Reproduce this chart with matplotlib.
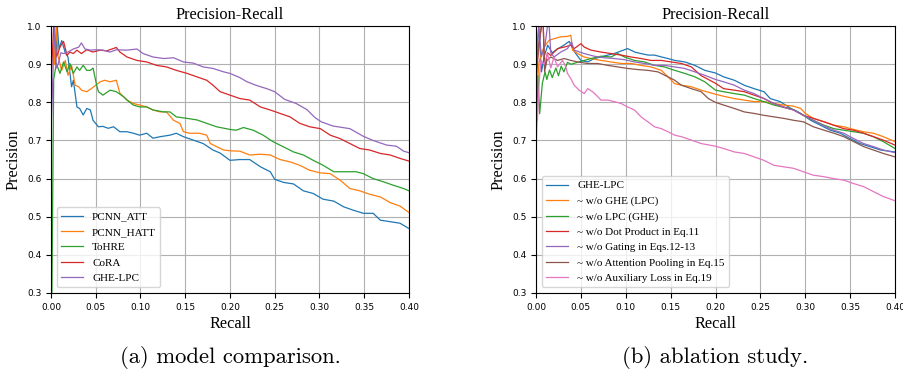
import matplotlib
matplotlib.use('Agg')
import matplotlib.pyplot as plt

# ---------- (a) model comparison ----------
att_r = [0.0, 0.003, 0.005, 0.007, 0.009, 0.012, 0.016, 0.019, 0.023, 0.025, 0.029, 0.032, 0.036, 0.040, 0.044, 0.047,
         0.053, 0.058, 0.064, 0.070, 0.077, 0.085, 0.092, 0.099, 0.107, 0.114, 0.122, 0.133, 0.140, 0.148, 0.159,
         0.170, 0.181, 0.189, 0.200, 0.211, 0.222, 0.234, 0.245, 0.250, 0.260, 0.271, 0.282, 0.293, 0.304, 0.316,
         0.327, 0.338, 0.349, 0.360, 0.368, 0.379, 0.390, 0.400]
att_p = [1.0, 1.0, 0.90, 1.0, 0.94, 0.962, 0.93, 0.919, 0.841, 0.858, 0.788, 0.784, 0.767, 0.784, 0.780, 0.753,
         0.736, 0.737, 0.732, 0.736, 0.723, 0.723, 0.719, 0.714, 0.719, 0.706, 0.710, 0.714, 0.719, 0.710, 0.701,
         0.692, 0.675, 0.667, 0.648, 0.650, 0.650, 0.631, 0.618, 0.598, 0.590, 0.586, 0.568, 0.561, 0.546, 0.541,
         0.526, 0.517, 0.509, 0.509, 0.491, 0.487, 0.483, 0.469]

hatt_r = [0.0, 0.003, 0.004, 0.006, 0.008, 0.012, 0.016, 0.019, 0.023, 0.027, 0.031, 0.034, 0.040, 0.045, 0.050,
          0.055, 0.060, 0.066, 0.073, 0.077, 0.085, 0.092, 0.099, 0.107, 0.114, 0.122, 0.129, 0.137, 0.144, 0.148,
          0.155, 0.166, 0.174, 0.178, 0.185, 0.193, 0.200, 0.211, 0.222, 0.234, 0.245, 0.256, 0.267, 0.278, 0.289,
          0.301, 0.312, 0.323, 0.334, 0.345, 0.356, 0.368, 0.379, 0.390, 0.400]
hatt_p = [1.0, 1.0, 0.90, 1.0, 0.919, 0.884, 0.910, 0.871, 0.897, 0.845, 0.841, 0.832, 0.828, 0.836, 0.845,
          0.854, 0.858, 0.854, 0.858, 0.824, 0.806, 0.797, 0.793, 0.788, 0.780, 0.775, 0.775, 0.753, 0.745, 0.723,
          0.719, 0.719, 0.714, 0.692, 0.684, 0.675, 0.673, 0.672, 0.662, 0.664, 0.662, 0.650, 0.644, 0.635, 0.622,
          0.615, 0.613, 0.596, 0.574, 0.568, 0.559, 0.552, 0.537, 0.528, 0.511]

tohre_r = [0.0, 0.003, 0.006, 0.010, 0.014, 0.018, 0.021, 0.025, 0.029, 0.032, 0.036, 0.040, 0.044, 0.047, 0.051,
           0.053, 0.058, 0.066, 0.073, 0.081, 0.085, 0.092, 0.099, 0.107, 0.114, 0.126, 0.133, 0.140, 0.152, 0.163,
           0.174, 0.185, 0.200, 0.207, 0.215, 0.226, 0.237, 0.248, 0.260, 0.271, 0.282, 0.293, 0.304, 0.316, 0.327,
           0.341, 0.349, 0.360, 0.371, 0.382, 0.394, 0.400]
tohre_p = [0.0, 0.86, 0.902, 0.876, 0.906, 0.880, 0.902, 0.876, 0.893, 0.884, 0.897, 0.884, 0.884, 0.890, 0.845,
           0.828, 0.819, 0.832, 0.828, 0.815, 0.806, 0.793, 0.788, 0.788, 0.780, 0.775, 0.775, 0.762, 0.758, 0.754,
           0.745, 0.736, 0.729, 0.727, 0.734, 0.727, 0.714, 0.697, 0.683, 0.670, 0.662, 0.648, 0.635, 0.618, 0.618,
           0.618, 0.613, 0.600, 0.592, 0.583, 0.574, 0.568]

cora_r = [0.0, 0.003, 0.006, 0.008, 0.010, 0.014, 0.018, 0.021, 0.025, 0.029, 0.034, 0.040, 0.047, 0.055, 0.062,
          0.073, 0.077, 0.085, 0.096, 0.107, 0.118, 0.129, 0.140, 0.152, 0.163, 0.174, 0.181, 0.189, 0.200, 0.211,
          0.222, 0.234, 0.245, 0.256, 0.267, 0.278, 0.289, 0.301, 0.312, 0.323, 0.334, 0.345, 0.356, 0.368, 0.379,
          0.390, 0.400]
cora_p = [0.85, 1.0, 0.92, 0.93, 0.945, 0.960, 0.923, 0.932, 0.928, 0.937, 0.928, 0.938, 0.932, 0.937, 0.935,
          0.944, 0.932, 0.919, 0.910, 0.906, 0.897, 0.893, 0.884, 0.876, 0.867, 0.858, 0.845, 0.828, 0.819, 0.810,
          0.806, 0.788, 0.780, 0.771, 0.762, 0.745, 0.736, 0.731, 0.714, 0.705, 0.692, 0.679, 0.675, 0.666, 0.662,
          0.653, 0.646]

ghe_r = [0.0, 0.002, 0.004, 0.006, 0.008, 0.011, 0.014, 0.019, 0.025, 0.031, 0.034, 0.038, 0.044, 0.050, 0.058,
         0.066, 0.073, 0.085, 0.096, 0.103, 0.114, 0.126, 0.137, 0.148, 0.159, 0.170, 0.181, 0.193, 0.200, 0.211,
         0.219, 0.230, 0.241, 0.250, 0.261, 0.274, 0.286, 0.295, 0.302, 0.315, 0.334, 0.349, 0.360, 0.375, 0.386,
         0.394, 0.400]
ghe_p = [0.72, 0.86, 1.0, 0.89, 0.90, 0.93, 0.928, 0.932, 0.940, 0.945, 0.956, 0.940, 0.937, 0.938, 0.937,
         0.932, 0.938, 0.937, 0.940, 0.928, 0.919, 0.915, 0.917, 0.906, 0.903, 0.893, 0.889, 0.880, 0.876, 0.865,
         0.854, 0.844, 0.836, 0.828, 0.808, 0.797, 0.781, 0.760, 0.749, 0.738, 0.731, 0.711, 0.700, 0.688, 0.685,
         0.672, 0.668]

# ---------- (b) ablation study ----------
full_r = [0.0, 0.003, 0.006, 0.009, 0.013, 0.018, 0.024, 0.031, 0.037, 0.042, 0.050, 0.0575, 0.065, 0.072, 0.080,
          0.087, 0.095, 0.102, 0.110, 0.117, 0.125, 0.132, 0.140, 0.147, 0.1545, 0.166, 0.177, 0.188, 0.200,
          0.209, 0.221, 0.232, 0.243, 0.254, 0.261, 0.272, 0.284, 0.295, 0.306, 0.317, 0.328, 0.339, 0.350,
          0.361, 0.372, 0.384, 0.400]
full_p = [0.90, 1.0, 0.88, 0.92, 0.95, 0.93, 0.94, 0.95, 0.96, 0.935, 0.91, 0.906, 0.915, 0.919, 0.924,
          0.928, 0.935, 0.941, 0.932, 0.928, 0.924, 0.924, 0.919, 0.915, 0.910, 0.906, 0.897, 0.884, 0.877,
          0.867, 0.858, 0.845, 0.836, 0.828, 0.810, 0.802, 0.784, 0.771, 0.753, 0.740, 0.727, 0.719, 0.705,
          0.692, 0.684, 0.675, 0.670]

noghe_r = [0.0, 0.003, 0.006, 0.009, 0.0146, 0.020, 0.0276, 0.035, 0.0388, 0.0407, 0.0463, 0.0537, 0.0612, 0.0724,
           0.0836, 0.0948, 0.106, 0.117, 0.128, 0.1396, 0.147, 0.1545, 0.162, 0.173, 0.184, 0.199, 0.209, 0.221,
           0.232, 0.243, 0.254, 0.265, 0.276, 0.287, 0.295, 0.300, 0.309, 0.321, 0.332, 0.343, 0.354, 0.365,
           0.376, 0.387, 0.400]
noghe_p = [0.78, 0.90, 0.93, 0.945, 0.963, 0.967, 0.972, 0.973, 0.976, 0.937, 0.928, 0.919, 0.915, 0.910,
           0.906, 0.902, 0.902, 0.897, 0.893, 0.884, 0.867, 0.849, 0.845, 0.841, 0.832, 0.822, 0.816, 0.810,
           0.806, 0.802, 0.802, 0.797, 0.793, 0.790, 0.784, 0.771, 0.758, 0.749, 0.740, 0.736, 0.729, 0.723,
           0.719, 0.710, 0.697]

nolpc_r = [0.0, 0.002, 0.004, 0.007, 0.010, 0.012, 0.015, 0.018, 0.022, 0.025, 0.028, 0.031, 0.035, 0.039, 0.046,
           0.0537, 0.0612, 0.0724, 0.0836, 0.091, 0.0985, 0.1097, 0.121, 0.132, 0.143, 0.1545, 0.1657, 0.177,
           0.188, 0.200, 0.209, 0.221, 0.232, 0.243, 0.254, 0.265, 0.276, 0.287, 0.298, 0.309, 0.321, 0.332,
           0.343, 0.354, 0.365, 0.376, 0.387, 0.400]
nolpc_p = [0.667, 0.87, 0.77, 0.85, 0.88, 0.86, 0.885, 0.865, 0.89, 0.87, 0.895, 0.88, 0.905, 0.90, 0.905,
           0.910, 0.915, 0.921, 0.919, 0.928, 0.919, 0.910, 0.906, 0.897, 0.893, 0.884, 0.876, 0.867,
           0.854, 0.832, 0.828, 0.823, 0.819, 0.810, 0.802, 0.793, 0.787, 0.781, 0.766, 0.753, 0.740, 0.731,
           0.727, 0.723, 0.719, 0.710, 0.697, 0.679]

nodot_r = [0.0, 0.003, 0.006, 0.008, 0.0095, 0.0127, 0.0164, 0.0239, 0.0313, 0.0388, 0.0425, 0.050, 0.0537,
           0.0612, 0.0724, 0.0836, 0.0948, 0.106, 0.117, 0.128, 0.1396, 0.1507, 0.162, 0.173, 0.184, 0.200,
           0.209, 0.221, 0.232, 0.243, 0.254, 0.265, 0.276, 0.287, 0.298, 0.309, 0.321, 0.332, 0.343, 0.354,
           0.365, 0.376, 0.387, 0.400]
nodot_p = [0.85, 0.95, 1.0, 1.0, 0.89, 0.93, 0.923, 0.941, 0.945, 0.950, 0.941, 0.954, 0.945,
           0.937, 0.932, 0.928, 0.924, 0.919, 0.915, 0.910, 0.910, 0.906, 0.902, 0.893, 0.870, 0.850,
           0.836, 0.832, 0.828, 0.819, 0.810, 0.797, 0.788, 0.780, 0.766, 0.758, 0.749, 0.740, 0.731, 0.727,
           0.719, 0.710, 0.701, 0.688]

nogate_r = [0.0, 0.003, 0.006, 0.010, 0.0127, 0.0146, 0.0164, 0.020, 0.0276, 0.035, 0.0395, 0.0425, 0.0537,
            0.065, 0.0761, 0.0873, 0.0985, 0.1097, 0.121, 0.132, 0.143, 0.1545, 0.1657, 0.177, 0.188, 0.200,
            0.209, 0.221, 0.232, 0.243, 0.254, 0.265, 0.276, 0.287, 0.298, 0.309, 0.321, 0.332, 0.343, 0.354,
            0.365, 0.376, 0.387, 0.400]
nogate_p = [0.90, 1.0, 0.92, 0.95, 1.0, 1.0, 0.93, 0.919, 0.932, 0.941, 0.958, 0.937, 0.928,
            0.921, 0.917, 0.915, 0.912, 0.906, 0.902, 0.897, 0.897, 0.893, 0.889, 0.880, 0.871, 0.860,
            0.854, 0.845, 0.832, 0.823, 0.810, 0.797, 0.787, 0.780, 0.766, 0.753, 0.738, 0.727, 0.719, 0.705,
            0.692, 0.684, 0.675, 0.668]

noatt_r = [0.0, 0.003, 0.006, 0.008, 0.0095, 0.012, 0.0164, 0.0239, 0.0313, 0.0388, 0.0463, 0.0575, 0.0687,
           0.080, 0.091, 0.102, 0.1134, 0.1246, 0.1358, 0.147, 0.1545, 0.162, 0.173, 0.184, 0.192, 0.200,
           0.209, 0.221, 0.232, 0.243, 0.254, 0.265, 0.276, 0.287, 0.298, 0.309, 0.321, 0.332, 0.343, 0.354,
           0.365, 0.376, 0.387, 0.400]
noatt_p = [0.88, 0.95, 1.0, 1.0, 0.88, 0.91, 0.919, 0.910, 0.915, 0.910, 0.906, 0.902, 0.902,
           0.897, 0.893, 0.889, 0.886, 0.884, 0.880, 0.867, 0.858, 0.845, 0.836, 0.828, 0.810, 0.800,
           0.793, 0.784, 0.775, 0.771, 0.766, 0.762, 0.758, 0.753, 0.749, 0.736, 0.727, 0.719, 0.710, 0.697,
           0.684, 0.675, 0.666, 0.657]

noaux_r = [0.0, 0.0015, 0.0034, 0.0052, 0.009, 0.0127, 0.0164, 0.020, 0.0239, 0.0295, 0.0332, 0.035, 0.0388,
           0.0425, 0.048, 0.0537, 0.0575, 0.063, 0.0687, 0.0724, 0.080, 0.0873, 0.0948, 0.102, 0.1097, 0.117,
           0.1246, 0.132, 0.1396, 0.147, 0.1545, 0.162, 0.173, 0.184, 0.200, 0.209, 0.221, 0.232, 0.243, 0.254,
           0.265, 0.276, 0.287, 0.298, 0.309, 0.321, 0.332, 0.343, 0.354, 0.365, 0.376, 0.387, 0.400]
noaux_p = [0.75, 0.753, 0.85, 0.91, 0.90, 0.928, 0.89, 0.919, 0.893, 0.91, 0.893, 0.876, 0.862,
           0.845, 0.832, 0.823, 0.836, 0.828, 0.815, 0.806, 0.806, 0.802, 0.797, 0.788, 0.780, 0.762,
           0.749, 0.736, 0.731, 0.723, 0.714, 0.710, 0.701, 0.692, 0.685, 0.679, 0.670, 0.666, 0.657, 0.648,
           0.635, 0.631, 0.627, 0.618, 0.609, 0.605, 0.600, 0.596, 0.587, 0.579, 0.566, 0.553, 0.542]

left_series = [(att_r, att_p, 'PCNN_ATT'), (hatt_r, hatt_p, 'PCNN_HATT'), (tohre_r, tohre_p, 'ToHRE'),
               (cora_r, cora_p, 'CoRA'), (ghe_r, ghe_p, 'GHE-LPC')]
right_series = [(full_r, full_p, 'GHE-LPC'), (noghe_r, noghe_p, '~ w/o GHE (LPC)'),
                (nolpc_r, nolpc_p, '~ w/o LPC (GHE)'), (nodot_r, nodot_p, '~ w/o Dot Product in Eq.11'),
                (nogate_r, nogate_p, '~ w/o Gating in Eqs.12-13'),
                (noatt_r, noatt_p, '~ w/o Attention Pooling in Eq.15'),
                (noaux_r, noaux_p, '~ w/o Auxiliary Loss in Eq.19')]
captions = ['(a) model comparison.', '(b) ablation study.']

serif = 'Liberation Serif'
fig = plt.figure(figsize=(9.04, 3.78), dpi=100)
ax1 = fig.add_axes([0.0564, 0.2249, 0.396, 0.706])
ax2 = fig.add_axes([0.593, 0.2249, 0.397, 0.706])

for ax, series, cap in [(ax1, left_series, captions[0]), (ax2, right_series, captions[1])]:
    for r, p, lab in series:
        ax.plot(r, p, lw=0.9, label=lab)
    ax.set_xlim(0, 0.4)
    ax.set_ylim(0.3, 1.0)
    ax.set_xticks([0.0, 0.05, 0.1, 0.15, 0.2, 0.25, 0.3, 0.35, 0.4])
    ax.set_xticklabels(['0.00', '0.05', '0.10', '0.15', '0.20', '0.25', '0.30', '0.35', '0.40'])
    ax.tick_params(labelsize=6.5)
    ax.grid(True, color='#b0b0b0', lw=0.8)
    ax.set_title('Precision-Recall', family=serif, fontsize=11.8, pad=5)
    ax.set_xlabel('Recall', family=serif, fontsize=11.7, labelpad=3)
    ax.set_ylabel('Precision', family=serif, fontsize=11.7)
    ax.legend(loc='lower left', prop={'family': serif, 'size': 8})
    pos = ax.get_position()
    fig.text((pos.x0 + pos.x1) / 2, 0.053, cap, family='cmr10', fontsize=16.3, ha='center', va='center')

fig.savefig('out.png', dpi=100)
